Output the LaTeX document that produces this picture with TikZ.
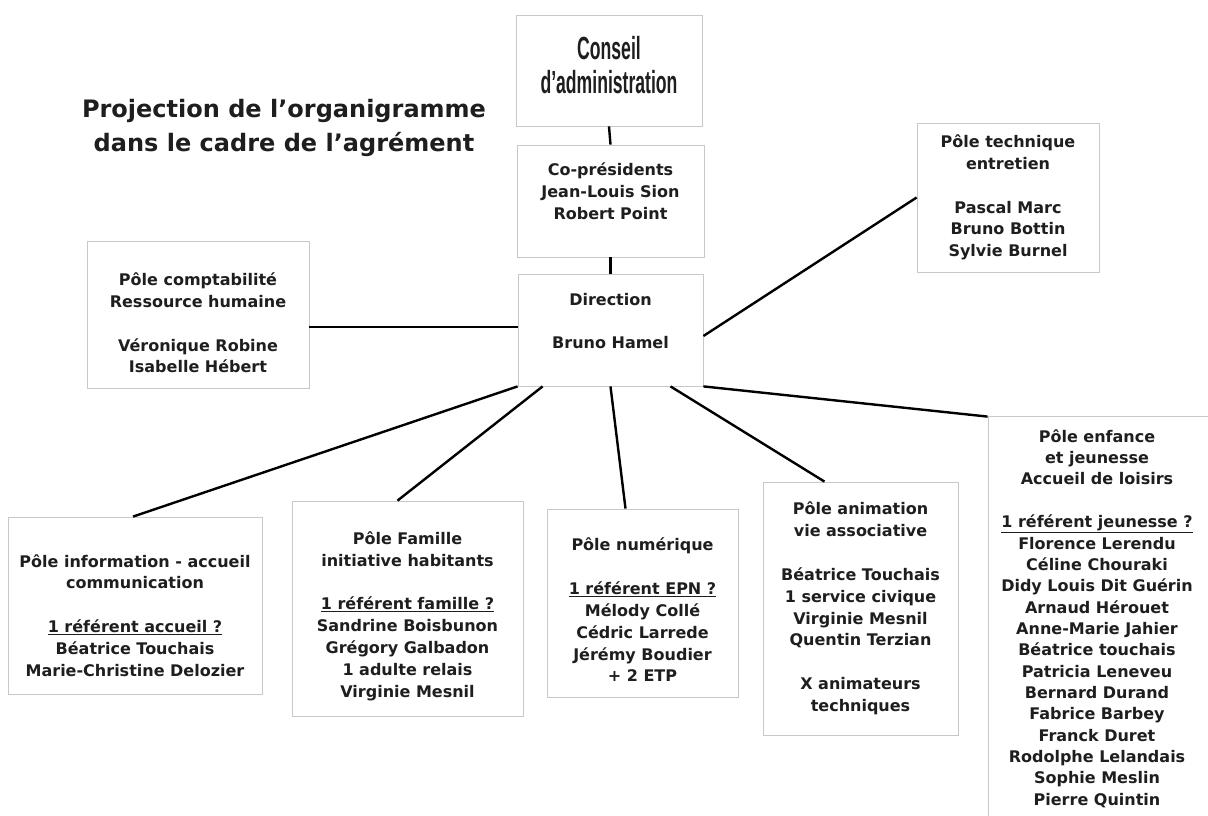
\documentclass[tikz,border=0pt]{standalone}
\usepackage{fontspec}
\setmainfont{DejaVu Sans}
\newfontfamily\narrowfont{Liberation Sans}
\definecolor{framegray}{HTML}{C8C8C8}
\definecolor{ink}{HTML}{1E1E1E}
\newcommand\bodyfont{\bfseries\fontsize{16}{21.8}\selectfont}
\newcommand\squeeze[1]{\scalebox{0.55}[1]{#1}}

\begin{document}
\begin{tikzpicture}[
        x=1pt, y=-1pt,
        frame/.style={draw=framegray, line width=0.8pt, inner sep=0pt},
        txt/.style={align=center, text=ink, font=\bodyfont},
        link/.style={draw=black, line width=2.4pt},
    ]
    \useasboundingbox (0,0) rectangle (1208,816);
    \fill[white] (0,0) rectangle (1208,816);
    \clip (0,0) rectangle (1208,816);

    % title
    \node[align=center, text=ink, font=\bfseries\fontsize{24}{33.3}\selectfont] (title) at (284,128)
        {Projection de l’organigramme\\ dans le cadre de l’agrément};

    % frames
    \node[frame, minimum width=186pt, minimum height=111pt] (conseil) at (609,70.5) {};
    \node[frame, minimum width=187pt, minimum height=112pt] (copres) at (610.5,201) {};
    \node[frame, minimum width=185pt, minimum height=112pt] (direction) at (610.5,330) {};
    \node[frame, minimum width=222pt, minimum height=147pt] (compta) at (198,314.5) {};
    \node[frame, minimum width=182pt, minimum height=149pt] (technique) at (1008,197.5) {};
    \node[frame, minimum width=254pt, minimum height=177pt] (info) at (135,605.5) {};
    \node[frame, minimum width=231pt, minimum height=215pt] (famille) at (407.5,608.5) {};
    \node[frame, minimum width=191pt, minimum height=188pt] (numerique) at (642.5,603) {};
    \node[frame, minimum width=195pt, minimum height=253pt] (animation) at (860.5,608.5) {};
    \node[frame, minimum width=230pt, minimum height=412pt] (enfance) at (1103,622) {};

    % texts
    \node[align=center, text=ink, font=\narrowfont\bfseries\fontsize{32}{34}\selectfont, yshift=5.5pt] (conseil-txt) at (conseil)
        {\squeeze{Conseil}\\ \squeeze{d’administration}};
    \node[txt, yshift=10pt] (copres-txt) at (copres)
        {Co-présidents\\ Jean-Louis Sion\\ Robert Point};
    \node[txt, yshift=9pt] (direction-txt) at (direction)
        {Direction\\[22pt] Bruno Hamel};
    \node[txt, yshift=-8.5pt] (compta-txt) at (compta)
        {Pôle comptabilité\\ Ressource humaine\\[22pt] Véronique Robine\\ Isabelle Hébert};
    \node[txt] (technique-txt) at (technique)
        {Pôle technique\\ entretien\\[22pt] Pascal Marc\\ Bruno Bottin\\ Sylvie Burnel};
    \node[txt, yshift=-10pt] (info-txt) at (info)
        {Pôle information - accueil\\ communication\\[22pt] \underline{1 référent accueil ?}\\ Béatrice Touchais\\ Marie-Christine Delozier};
    \node[txt, yshift=-7.5pt] (famille-txt) at (famille)
        {Pôle Famille\\ initiative habitants\\[22pt] \underline{1 référent famille ?}\\ Sandrine Boisbunon\\ Grégory Galbadon\\ 1 adulte relais\\ Virginie Mesnil};
    \node[txt, yshift=-7pt] (numerique-txt) at (numerique)
        {Pôle numérique\\[22pt] \underline{1 référent EPN ?}\\ Mélody Collé\\ Cédric Larrede\\ Jérémy Boudier\\ + 2 ETP};
    \node[txt] (animation-txt) at (animation)
        {Pôle animation\\ vie associative\\[22pt] Béatrice Touchais\\ 1 service civique\\ Virginie Mesnil\\ Quentin Terzian\\[22pt] X animateurs\\ techniques};
    \node[txt, font=\bfseries\fontsize{16}{21.35}\selectfont, xshift=-6pt, yshift=3.5pt] (enfance-txt) at (enfance)
        {Pôle enfance\\ et jeunesse\\ Accueil de loisirs\\[21.35pt] \underline{1 référent jeunesse ?}\\ Florence Lerendu\\ Céline Chouraki\\ Didy Louis Dit Guérin\\ Arnaud Hérouet\\ Anne-Marie Jahier\\ Béatrice touchais\\ Patricia Leneveu\\ Bernard Durand\\ Fabrice Barbey\\ Franck Duret\\ Rodolphe Lelandais\\ Sophie Meslin\\ Pierre Quintin};

    % links
    \draw[link] (conseil.south) -- (copres.north);
    \draw[link] (copres.south) -- (direction.north);
    \draw[link] ([yshift=3pt]direction.west) -- ([yshift=3pt]direction.west -| compta.east);
    \draw[link] ([yshift=-6pt]direction.east) -- (technique.west);
    \draw[link] (direction.south west) -- ([xshift=-2pt]info.north);
    \draw[link] ([xshift=25pt]direction.south west) -- ([xshift=-10pt]famille.north);
    \draw[link] (direction.south) -- ([xshift=-17pt]numerique.north);
    \draw[link] ([xshift=60pt]direction.south) -- ([xshift=-36pt]animation.north);
    \draw[link] (direction.south east) -- ([yshift=-1pt]enfance.north west);
\end{tikzpicture}
\end{document}
